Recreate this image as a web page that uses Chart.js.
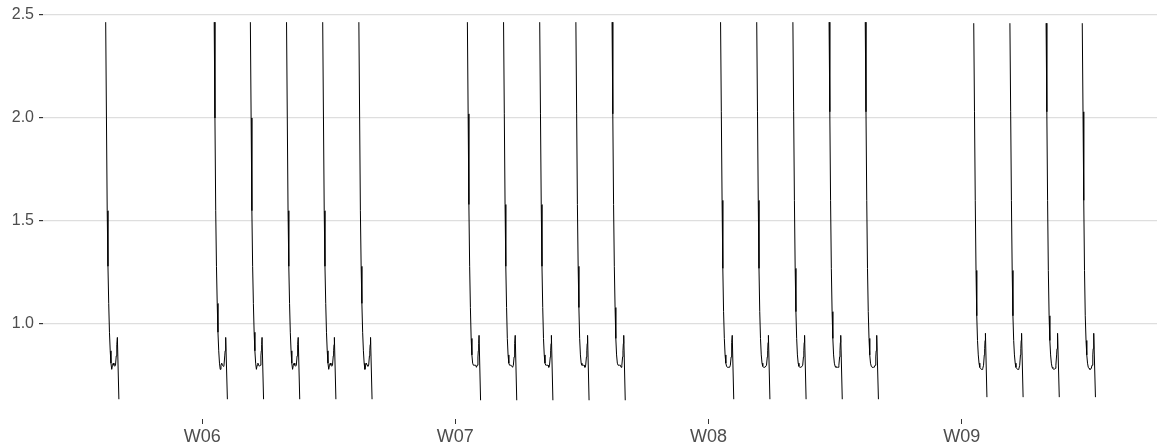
<!DOCTYPE html>
<html>
<head>
<meta charset="utf-8">
<script src="https://cdn.jsdelivr.net/npm/chart.js@4/dist/chart.umd.min.js"></script>
<style>
  html, body { margin: 0; padding: 0; background: #fff; }
  canvas { display: block; }
</style>
</head>
<body>
<canvas id="chart" width="1161" height="448"></canvas>
<script>
'use strict';

// hours of the day at which each working-day run is sampled
const sampleHours = [8, 8.5, 9, 9.5, 10, 10.5, 11, 11.5, 12, 12.5, 13, 13.5, 14, 14.5, 15, 15.25, 15.5, 15.75, 16.75];

// readings per run, one list per week
const runW06 = [2.465, 2.0, 1.55, 1.28, 1.10, 0.96, 0.87, 0.81, 0.78, 0.80, 0.81, 0.80, 0.795, 0.80, 0.845, 0.87, 0.90, 0.935, 0.635];
const runW07 = [2.465, 2.02, 1.58, 1.28, 1.08, 0.93, 0.85, 0.81, 0.80, 0.80, 0.80, 0.80, 0.79, 0.80, 0.84, 0.87, 0.905, 0.945, 0.63];
const runW08 = [2.465, 2.03, 1.60, 1.27, 1.06, 0.93, 0.85, 0.81, 0.795, 0.79, 0.79, 0.79, 0.79, 0.80, 0.84, 0.87, 0.91, 0.945, 0.635];
const runW09 = [2.46, 2.03, 1.60, 1.26, 1.04, 0.92, 0.85, 0.81, 0.79, 0.785, 0.78, 0.78, 0.785, 0.80, 0.85, 0.88, 0.92, 0.955, 0.645];

// days counted from Monday of W06, and which readings belong to each day
const runDays = [-3, 0, 1, 2, 3, 4, 7, 8, 9, 10, 11, 14, 15, 16, 17, 18, 21, 22, 23, 24];
const runValues = [
  runW06,
  runW06, runW06, runW06, runW06, runW06,
  runW07, runW07, runW07, runW07, runW07,
  runW08, runW08, runW08, runW08, runW08,
  runW09, runW09, runW09, runW09
];

const weekTickDays = [0, 7, 14, 21];
const weekLabels = ['W06', 'W07', 'W08', 'W09'];
const yTickValues = [1.0, 1.5, 2.0, 2.5];

// one line with null breaks between the days
const points = [];
runDays.forEach((day, i) => {
  const values = runValues[i];
  sampleHours.forEach((h, j) => {
    points.push({ x: day + h / 24, y: values[j] });
  });
  points.push({ x: day + 0.9, y: null });
});

const FAMILY = '"Liberation Sans", Arial, sans-serif';
const ctx = document.getElementById('chart').getContext('2d');

// keep the plot panel at a fixed size, without room reserved for end labels
function fixSize(prop, size) {
  return scale => {
    scale[prop] = size;
    scale.paddingTop = 0;
    scale.paddingBottom = 0;
    scale.paddingLeft = 0;
    scale.paddingRight = 0;
  };
}

new Chart(ctx, {
  type: 'line',
  data: {
    datasets: [{
      data: points,
      borderColor: '#000000',
      borderWidth: 1,
      pointRadius: 0,
      tension: 0,
      spanGaps: false
    }]
  },
  options: {
    responsive: false,
    animation: false,
    layout: { padding: { top: 3, right: 4, left: 0, bottom: 0 } },
    plugins: {
      legend: { display: false },
      tooltip: { enabled: false }
    },
    scales: {
      x: {
        type: 'linear',
        min: -4.4,
        max: 26.4,
        afterBuildTicks: scale => {
          scale.ticks = weekTickDays.map(v => ({ value: v }));
        },
        afterFit: fixSize('height', 29),
        border: { display: false },
        grid: {
          drawOnChartArea: false,
          tickLength: 5,
          tickColor: '#333333'
        },
        ticks: {
          callback: value => weekLabels[weekTickDays.indexOf(value)],
          color: '#4d4d4d',
          font: { family: FAMILY, size: 18 },
          padding: 2,
          maxRotation: 0,
          autoSkip: false
        }
      },
      y: {
        min: 0.539,
        max: 2.558,
        afterBuildTicks: scale => {
          scale.ticks = yTickValues.map(v => ({ value: v }));
        },
        afterFit: fixSize('width', 43),
        border: { display: false },
        grid: {
          color: '#dedede',
          lineWidth: 1.2,
          tickColor: '#333333',
          tickLength: 4
        },
        ticks: {
          callback: value => value.toFixed(1),
          color: '#4d4d4d',
          font: { family: FAMILY, size: 16 },
          padding: 5
        }
      }
    }
  }
});
</script>
</body>
</html>
